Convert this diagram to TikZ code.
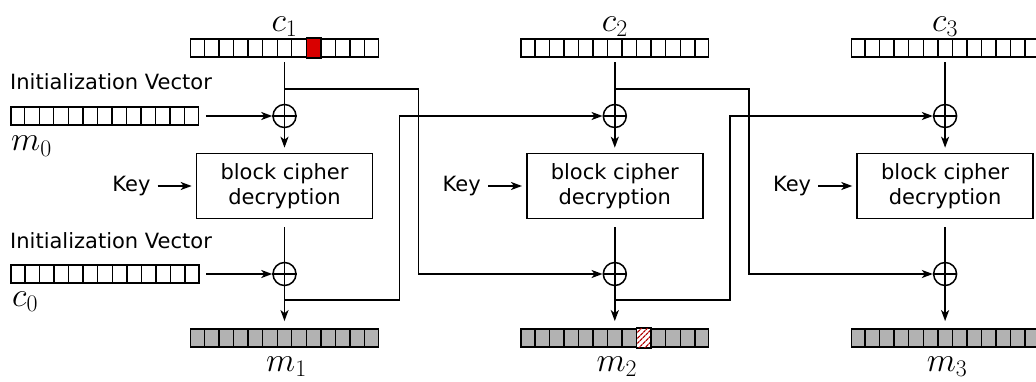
\RequirePackage{fix-cm}
\documentclass[tikz,border=0pt]{standalone}
\usepackage[no-math]{fontspec}
\setmainfont{DejaVu Sans}
\usetikzlibrary{positioning,calc,arrows.meta,patterns.meta}
\tikzset{
  reg/.style={draw, line width=1.5pt, minimum width=187.6pt, minimum height=18.3pt, inner sep=0pt},
  xor/.style={draw, circle, line width=1.5pt, minimum size=23pt, inner sep=0pt},
  cipher/.style={draw, line width=1.6pt, minimum width=176pt, minimum height=65pt, align=center, font=\fontsize{21}{25}\selectfont},
  lbl/.style={font=\fontsize{21}{25}\selectfont, inner sep=0pt},
  sym/.style={font=\fontsize{34}{36}\selectfont, inner sep=0pt},
  wire/.style={line width=1.8pt},
}
% cell k (0..12) of a register
\newcommand{\cell}[2]{($(#1.south west)!#2/13!(#1.south east)$) rectangle ($(#1.north west)!#2/13+1/13!(#1.north east)$)}
\newcommand{\cells}[1]{\foreach \k in {1,...,12} \draw[line width=1.4pt] ($(#1.north west)!\k/13!(#1.north east)$) -- ($(#1.south west)!\k/13!(#1.south east)$);}
\begin{document}
\begin{tikzpicture}[x=1pt, y=-1pt, >={Stealth[length=11pt,width=8pt,inset=3pt]}]
\useasboundingbox (0,0) rectangle (1036,382);
% the three decryption stages
\foreach \i/\x in {1/284.5, 2/614.8, 3/945.1}{
  \node[reg] (c\i) at (\x,48) {};
  \node[sym, anchor=base] (lc\i) at (\x,31.7) {$c_{\i}$};
  \node[xor] (xa\i) at (\x,116) {};
  \node[cipher] (bc\i) at (\x,186) {block cipher\\decryption};
  \node[lbl, left=45pt of bc\i] (key\i) {Key};
  \node[xor] (xb\i) at (\x,274) {};
  \node[reg, fill=gray!60] (m\i) at (\x,338) {};
  \node[sym, anchor=base] (lm\i) at (\x+2,371.7) {$m_{\i}$};
  \coordinate (tap\i) at (\x,89.3);
  \coordinate (fb\i) at (\x,300);
  \draw[wire] (xa\i.north) -- (xa\i.south) (xa\i.west) -- (xa\i.east);
  \draw[wire] (xb\i.north) -- (xb\i.south) (xb\i.west) -- (xb\i.east);
  \draw[wire, shorten <=4.4pt] (c\i.south) -- (xa\i.north);
  \draw[wire, ->, shorten >=5pt] (xa\i.south) -- (bc\i.north);
  \draw[wire, ->, shorten <=7pt, shorten >=4pt] (key\i.east) -- (bc\i.west);
  \draw[wire, shorten <=8pt] (bc\i.south) -- (xb\i.north);
  \draw[wire, ->, shorten >=7pt] (xb\i.south) -- (m\i.north);
}
% flipped bits
\filldraw[fill=red!85!black, draw=black, line width=1.4pt] \cell{c1}{8};
\filldraw[fill=white, draw=black, line width=1.4pt] \cell{m2}{8};
\fill[pattern={Lines[angle=45, distance=4pt, line width=1.4pt]}, pattern color=red!70!black] \cell{m2}{8};
\foreach \r in {c1,c2,c3,m1,m2,m3} {\cells{\r}}
% initialization vectors
\node[reg] (iv1) at (104.7,116) {};
\node[reg] (iv2) at (105,274) {};
\cells{iv1}
\cells{iv2}
\node[lbl, anchor=base west] (ivt1) at (10,90) {Initialization Vector};
\node[lbl, anchor=base west] (ivt2) at (10,248) {Initialization Vector};
\node[sym, anchor=base west] (lm0) at (11,151) {$m_0$};
\node[sym, anchor=base west] (lc0) at (12,306) {$c_0$};
\draw[wire, ->, shorten <=6.5pt] (iv1) -- (xa1);
\draw[wire, ->, shorten <=6.5pt] (iv2) -- (xb1);
% chaining to the next stage
\foreach \i/\j in {1/2, 2/3}{
  \draw[wire, ->] (tap\i) -- ++(134,0) |- (xb\j.west);
  \draw[wire, ->] (fb\i) -- ++(115,0) |- (xa\j.west);
}
\end{tikzpicture}
\end{document}
